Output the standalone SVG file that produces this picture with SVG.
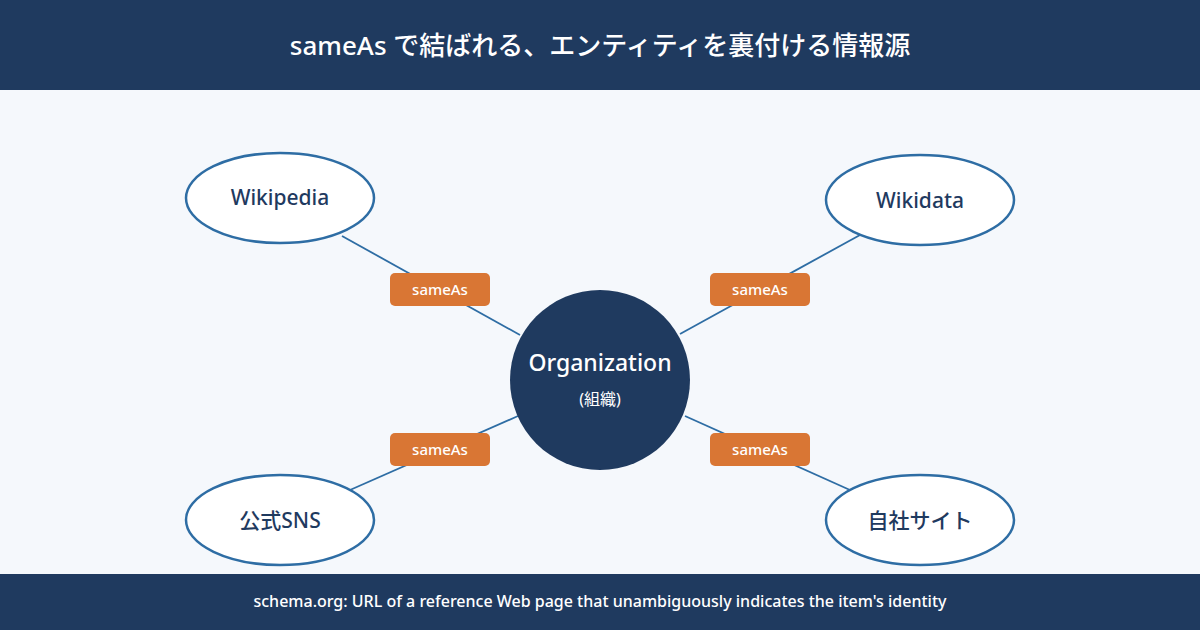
<svg xmlns="http://www.w3.org/2000/svg" width="1200" height="630" viewBox="0 0 1200 630">
<style>
.bar{fill:#1f3a5f}
.ell{fill:#fff;stroke:#2e6da4;stroke-width:2.5}
.lbl{fill:#d97634}
.lt{font-family:"Noto Sans","Noto Sans CJK JP",sans-serif;font-size:15px;font-weight:500;fill:#fff;text-anchor:middle}
.nt{font-family:"Noto Sans","Noto Sans CJK JP",sans-serif;font-size:21px;font-weight:500;fill:#1f3a5f;text-anchor:middle}
line{stroke:#2e6da4;stroke-width:1.8}
</style>
<rect width="1200" height="630" fill="#f5f8fc"/>
<rect class="bar" width="1200" height="90"/>
<text x="600" y="55" font-family="'Noto Sans','Noto Sans CJK JP',sans-serif" font-size="26" font-weight="500" fill="#fff" text-anchor="middle">sameAs で結ばれる、エンティティを裏付ける情報源</text>
<rect class="bar" y="574" width="1200" height="56"/>
<text x="600" y="607" font-family="'Noto Sans',sans-serif" font-size="16" font-weight="500" fill="#fff" text-anchor="middle">schema.org: URL of a reference Web page that unambiguously indicates the item's identity</text>
<g id="connectors">
<line x1="342" y1="236" x2="520" y2="335"/>
<line x1="860" y1="235" x2="680" y2="334"/>
<line x1="350" y1="490" x2="518" y2="416"/>
<line x1="850" y1="490" x2="685" y2="416"/>
<rect class="lbl" x="390" y="273" width="100" height="33" rx="5"/><text class="lt" x="440" y="295">sameAs</text>
<rect class="lbl" x="710" y="273" width="100" height="33" rx="5"/><text class="lt" x="760" y="295">sameAs</text>
<rect class="lbl" x="390" y="433" width="100" height="33" rx="5"/><text class="lt" x="440" y="455">sameAs</text>
<rect class="lbl" x="710" y="433" width="100" height="33" rx="5"/><text class="lt" x="760" y="455">sameAs</text>
</g>
<g id="org"><circle cx="600" cy="380" r="90" fill="#1f3a5f"/>
<text x="600" y="371" font-family="'Noto Sans',sans-serif" font-size="23" font-weight="500" fill="#fff" text-anchor="middle">Organization</text>
<text x="600" y="405" font-family="'Noto Sans','Noto Sans CJK JP',sans-serif" font-size="16" fill="#fff" text-anchor="middle">(組織)</text></g>
<g id="wikipedia"><ellipse class="ell" cx="280" cy="198" rx="94" ry="45"/><text class="nt" x="280" y="205">Wikipedia</text></g>
<g id="wikidata"><ellipse class="ell" cx="920" cy="200" rx="94" ry="45"/><text class="nt" x="920" y="208">Wikidata</text></g>
<g id="sns"><ellipse class="ell" cx="280" cy="520" rx="94" ry="45"/><text class="nt" x="280" y="528">公式SNS</text></g>
<g id="site"><ellipse class="ell" cx="920" cy="520" rx="94" ry="45"/><text class="nt" x="920" y="528">自社サイト</text></g>
</svg>
